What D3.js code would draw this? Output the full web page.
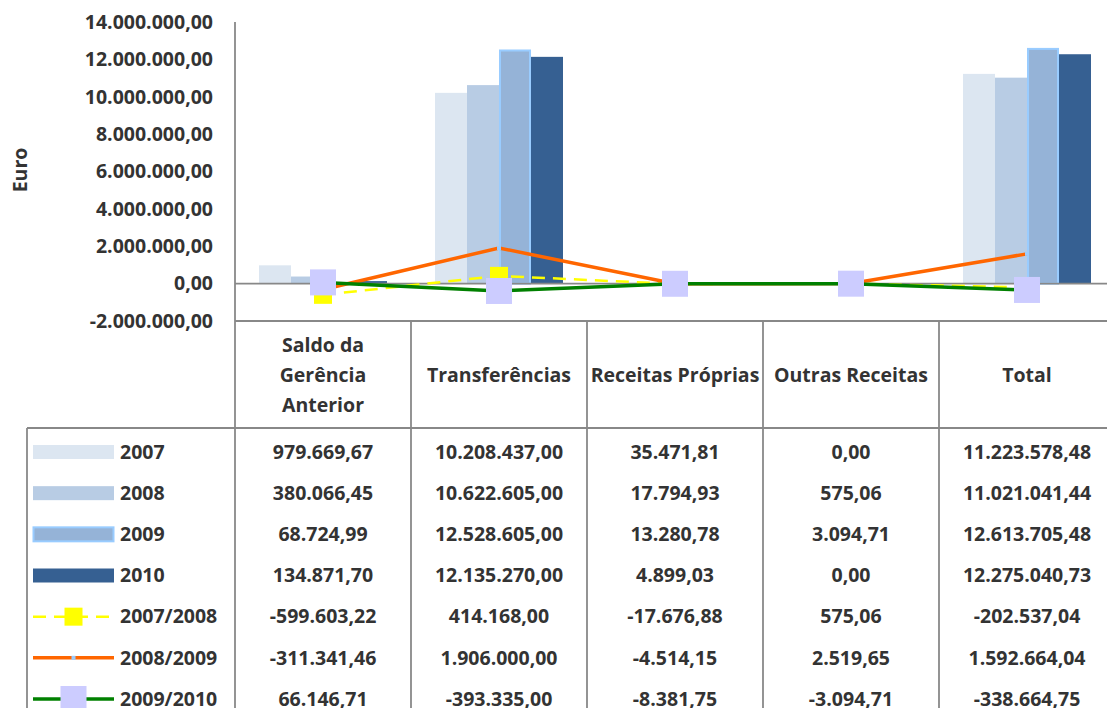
<!DOCTYPE html>
<html>
<head>
<meta charset="utf-8">
<script src="https://cdn.jsdelivr.net/npm/d3@7"></script>
<style>
  body { margin: 0; background: #fff; }
  svg { display: block; }
  text { font-family: "Open Sans", sans-serif; font-weight: 700; fill: #333; }
</style>
</head>
<body>
<svg id="chart" width="1107" height="708"></svg>
<script>
// categories (header of the data table), "\n" marks a line break
const categories = ["Saldo da\nGerência\nAnterior", "Transferências", "Receitas Próprias", "Outras Receitas", "Total"];

const barSeries = ["2007", "2008", "2009", "2010"];
const lineSeries = ["2007/2008", "2008/2009", "2009/2010"];

const values2007 = [979669.67, 10208437.00, 35471.81, 0.00, 11223578.48];
const values2008 = [380066.45, 10622605.00, 17794.93, 575.06, 11021041.44];
const values2009 = [68724.99, 12528605.00, 13280.78, 3094.71, 12613705.48];
const values2010 = [134871.70, 12135270.00, 4899.03, 0.00, 12275040.73];
const diff0708 = [-599603.22, 414168.00, -17676.88, 575.06, -202537.04];
const diff0809 = [-311341.46, 1906000.00, -4514.15, 2519.65, 1592664.04];
const diff0910 = [66146.71, -393335.00, -8381.75, -3094.71, -338664.75];

const yTicks = [-2000000, 0, 2000000, 4000000, 6000000, 8000000, 10000000, 12000000, 14000000];

const seriesValues = {
    "2007": values2007, "2008": values2008, "2009": values2009, "2010": values2010,
    "2007/2008": diff0708, "2008/2009": diff0809, "2009/2010": diff0910
};

const barStyle = {
    "2007": {fill: "#dce6f1"},
    "2008": {fill: "#b8cce4"},
    "2009": {fill: "#95b3d7", stroke: "#99ccff"},
    "2010": {fill: "#366092"}
};
const lineStyle = {
    "2007/2008": {color: "#ffff00", width: 2.5, dash: "13,8", marker: 18, markerFill: "#ffff00"},
    "2008/2009": {color: "#ff6600", width: 3.5, dash: null, marker: 4, markerFill: "#99ccff"},
    "2009/2010": {color: "#008000", width: 3.5, dash: null, marker: 26, markerFill: "#ccccff"}
};

const pt = d3.formatLocale({decimal: ",", thousands: ".", grouping: [3], currency: ["", " €"], minus: "-"});
const fmt = pt.format(",.2f");

const svg = d3.select("#chart");
const gridColor = "#888";
const fontSize = 19.5;

const plotLeft = 235, plotTop = 22, plotBottom = 321;
const colWidth = 176;
const tableTop = 428, tableLeft = 27;

const x = d3.scaleBand()
    .domain(categories)
    .range([plotLeft, plotLeft + colWidth * categories.length])
    .padding(0);

// Excel gap width 150% -> 4 bars + 1.5 bar widths of gap
const x1 = d3.scaleBand()
    .domain(barSeries)
    .range([0, x.bandwidth()])
    .paddingInner(0)
    .paddingOuter(0.75);

const y = d3.scaleLinear()
    .domain([yTicks[0], yTicks[yTicks.length - 1]])
    .range([plotBottom, plotTop]);

const rows = d3.scalePoint()
    .domain(barSeries.concat(lineSeries))
    .range([452, 699]);

const cx = c => x(c) + x.bandwidth() / 2;

// bars
barSeries.forEach(s => {
    const st = barStyle[s];
    svg.append("g")
        .selectAll("rect")
        .data(categories.map((c, i) => ({c, v: seriesValues[s][i]})))
        .enter()
        .append("rect")
        .attr("x", d => x(d.c) + x1(s) + (st.stroke ? 1 : 0))
        .attr("y", d => y(Math.max(0, d.v)) + (st.stroke ? 1 : 0))
        .attr("width", x1.bandwidth() - (st.stroke ? 2 : 0))
        .attr("height", d => Math.max(0, Math.abs(y(d.v) - y(0)) - (st.stroke ? 1 : 0)))
        .attr("fill", st.fill)
        .attr("stroke", st.stroke || "none")
        .attr("stroke-width", st.stroke ? 2 : 0);
});

// zero line + table grid
const grid = svg.append("g").attr("stroke", gridColor).attr("stroke-width", 1.8);
grid.append("line")
    .attr("x1", plotLeft).attr("x2", 1107)
    .attr("y1", y(0)).attr("y2", y(0));
grid.append("line")
    .attr("x1", plotLeft).attr("x2", 1107)
    .attr("y1", plotBottom).attr("y2", plotBottom);
grid.append("line")
    .attr("x1", tableLeft).attr("x2", 1107)
    .attr("y1", tableTop).attr("y2", tableTop);
grid.append("line")
    .attr("x1", tableLeft).attr("x2", tableLeft)
    .attr("y1", tableTop).attr("y2", 708);
grid.append("line")
    .attr("x1", plotLeft).attr("x2", plotLeft)
    .attr("y1", plotTop).attr("y2", 708);
grid.selectAll("line.col")
    .data(categories)
    .enter()
    .append("line")
    .attr("class", "col")
    .attr("x1", d => x(d) + x.bandwidth())
    .attr("x2", d => x(d) + x.bandwidth())
    .attr("y1", plotBottom).attr("y2", 708);

// lines with markers
const lineGen = d3.line().x(d => cx(d.c)).y(d => y(d.v));
lineSeries.forEach(s => {
    const st = lineStyle[s];
    const pts = categories.map((c, i) => ({c, v: seriesValues[s][i]}));
    svg.append("path")
        .datum(pts)
        .attr("d", lineGen)
        .attr("fill", "none")
        .attr("stroke", st.color)
        .attr("stroke-width", st.width)
        .attr("stroke-dasharray", st.dash);
    svg.append("g")
        .selectAll("rect")
        .data(pts)
        .enter()
        .append("rect")
        .attr("x", d => cx(d.c) - st.marker / 2)
        .attr("y", d => y(d.v) - st.marker / 2)
        .attr("width", st.marker)
        .attr("height", st.marker)
        .attr("fill", st.markerFill);
});

// y axis labels
const yAxis = svg.append("g")
    .attr("transform", `translate(${plotLeft},0)`)
    .call(d3.axisLeft(y).tickValues(yTicks).tickSize(0).tickPadding(22).tickFormat(fmt));
yAxis.select(".domain").remove();
yAxis.selectAll("text")
    .attr("font-family", null)
    .style("font-size", fontSize + "px")
    .attr("fill", null);

svg.append("text")
    .attr("transform", `translate(27,170) rotate(-90)`)
    .attr("text-anchor", "middle")
    .style("font-size", fontSize + "px")
    .text("Euro");

// table header
const header = svg.append("g");
categories.forEach(c => {
    const lines = c.split("\n");
    const mid = 375;
    lines.forEach((ln, k) => {
        header.append("text")
            .attr("x", cx(c))
            .attr("y", mid + (k - (lines.length - 1) / 2) * 30)
            .attr("dy", "0.35em")
            .attr("text-anchor", "middle")
            .style("font-size", fontSize + "px")
            .text(ln);
    });
});

// legend keys + row labels
const keyX0 = 33, keyX1 = 114;
const legend = svg.append("g");
barSeries.forEach(s => {
    const st = barStyle[s];
    legend.append("rect")
        .attr("x", keyX0 + (st.stroke ? 0.5 : 0))
        .attr("y", rows(s) - 7)
        .attr("width", keyX1 - keyX0 - (st.stroke ? 1 : 0))
        .attr("height", 14)
        .attr("fill", st.fill)
        .attr("stroke", st.stroke || "none")
        .attr("stroke-width", st.stroke ? 2 : 0);
});
lineSeries.forEach(s => {
    const st = lineStyle[s];
    legend.append("line")
        .attr("x1", keyX0).attr("x2", keyX1)
        .attr("y1", rows(s)).attr("y2", rows(s))
        .attr("stroke", st.color)
        .attr("stroke-width", st.width)
        .attr("stroke-dasharray", st.dash);
    legend.append("rect")
        .attr("x", (keyX0 + keyX1) / 2 - st.marker / 2)
        .attr("y", rows(s) - st.marker / 2)
        .attr("width", st.marker)
        .attr("height", st.marker)
        .attr("fill", st.markerFill);
});
legend.selectAll("text")
    .data(rows.domain())
    .enter()
    .append("text")
    .attr("x", 120)
    .attr("y", d => rows(d))
    .attr("dy", "0.35em")
    .style("font-size", fontSize + "px")
    .text(d => d);

// table values
const body = svg.append("g");
rows.domain().forEach(s => {
    body.selectAll(null)
        .data(categories.map((c, i) => ({c, v: seriesValues[s][i]})))
        .enter()
        .append("text")
        .attr("x", d => cx(d.c))
        .attr("y", rows(s))
        .attr("dy", "0.35em")
        .attr("text-anchor", "middle")
        .style("font-size", fontSize + "px")
        .text(d => fmt(d.v));
});
</script>
</body>
</html>
